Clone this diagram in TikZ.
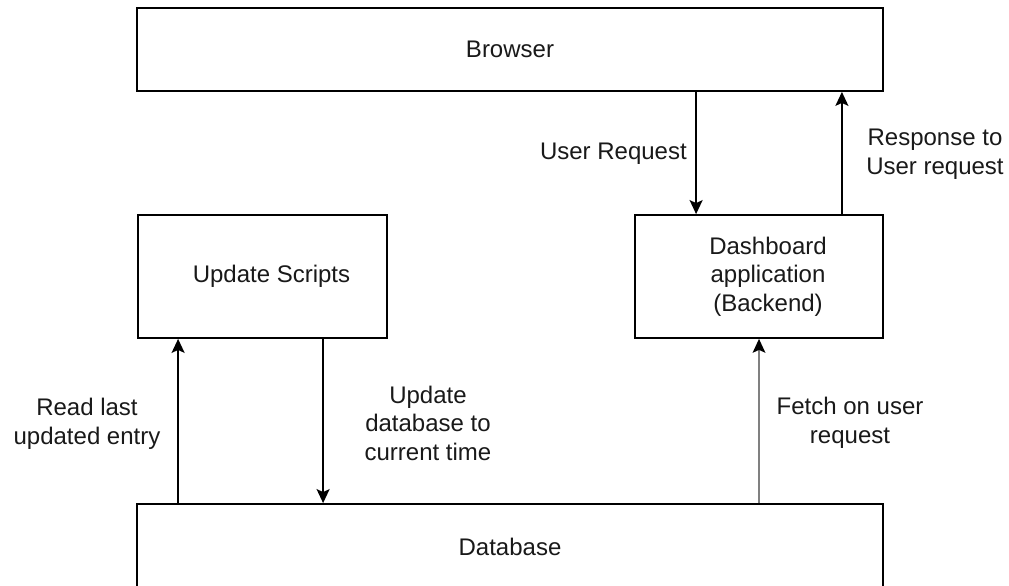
\documentclass[tikz,border=0pt]{standalone}
\usepackage{fontspec}
\setmainfont{Liberation Sans}
\usetikzlibrary{arrows.meta,calc}
\begin{document}
\begin{tikzpicture}[x=1pt,y=-1pt,
  box/.style={draw=black,line width=1.8pt,fill=white,inner sep=0pt},
  lbl/.style={font=\fontsize{24}{28.5}\selectfont,align=center,inner sep=0pt,text=black!90},
  arr/.style={draw=black,line width=1.8pt,-{Stealth[length=14pt,width=13pt,inset=3pt]}},
  garr/.style={draw=black!50,line width=2.6pt,-{Stealth[length=14pt,width=13pt,inset=3pt,color=black,line width=0pt]}}]
\useasboundingbox (0,0) rectangle (1009,586);
\node[box,minimum width=746pt,minimum height=83pt] (browser) at (510,49.5) {};
\node[box,minimum width=249pt,minimum height=123pt] (upd) at (262.5,276.5) {};
\node[box,minimum width=248pt,minimum height=123pt] (dash) at (759,276.5) {};
\node[box,minimum width=746pt,minimum height=90pt] (db) at (510,549) {};
\node[lbl] (tbrowser) at (browser.center) {Browser};
\node[lbl] (tupd) at ($(upd.center)+(9,0)$) {Update Scripts};
\node[lbl] (tdash) at ($(dash.center)+(9,0)$) {Dashboard\\application\\(Backend)};
\node[lbl] (tdb) at (510,547) {Database};
\coordinate (ur) at ($(dash.north west)+(62,0)$);
\coordinate (rs) at ($(dash.north east)+(-42,0)$);
\coordinate (rl) at ($(upd.south west)+(41,0)$);
\coordinate (ud) at ($(upd.south west)+(186,0)$);
\draw[arr] (ur |- browser.south) -- (ur);
\draw[arr] (rs) -- (rs |- browser.south);
\draw[arr] (rl |- db.north) -- (rl);
\draw[arr] (ud) -- (ud |- db.north);
\draw[garr] (dash.south |- db.north) -- (dash.south);
\node[lbl,anchor=east] (lur) at (687,154) {User Request};
\node[lbl] (lrs) at (935,154) {Response to\\User request};
\node[lbl] (lrl) at (87,424) {Read last\\updated entry};
\node[lbl] (lud) at (428,423) {Update\\database to\\current time};
\node[lbl] (lf) at (850,423) {Fetch on user\\request};
\end{tikzpicture}
\end{document}
